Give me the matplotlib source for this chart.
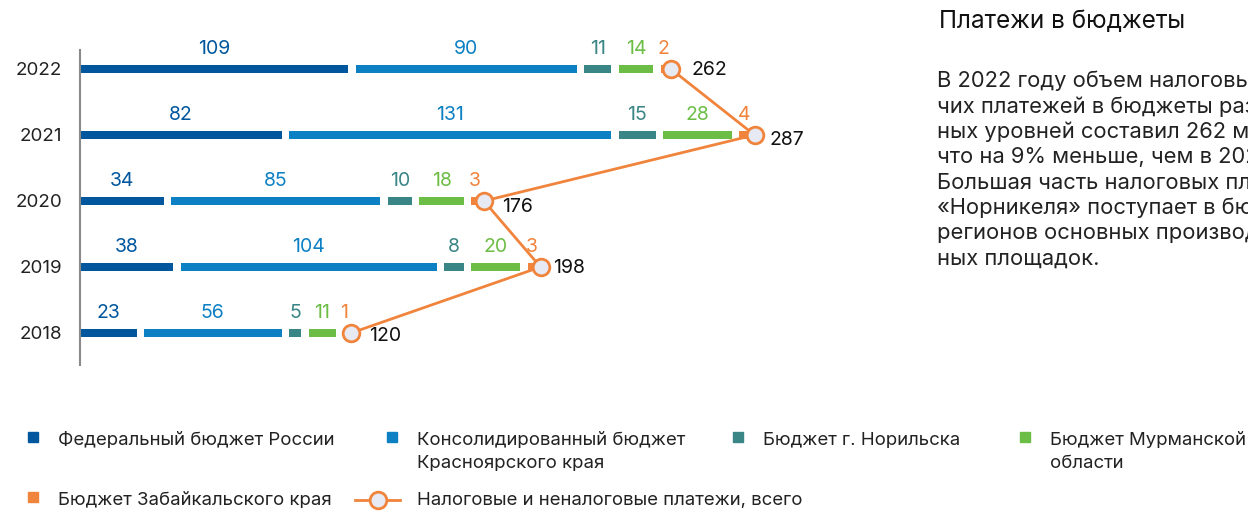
import numpy as np
import matplotlib.pyplot as plt

plt.rcParams['font.family'] = ['Inter', 'DejaVu Sans']

# data
years = ['2018', '2019', '2020', '2021', '2022']
federal = [23, 38, 34, 82, 109]
krasnoyarsk = [56, 104, 85, 131, 90]
norilsk = [5, 8, 10, 15, 11]
murmansk = [11, 20, 18, 28, 14]
zabaikal = [1, 3, 3, 4, 2]
totals = [120, 198, 176, 287, 262]

series = [federal, krasnoyarsk, norilsk, murmansk, zabaikal]
names = ['Федеральный бюджет России',
         'Консолидированный бюджет\nКрасноярского края',
         'Бюджет г. Норильска',
         'Бюджет Мурманской\nобласти',
         'Бюджет Забайкальского края']
colors = ['#00579E', '#0D80C4', '#3A8585', '#6CBD45', '#F0843C']
total_name = 'Налоговые и неналоговые платежи, всего'

title = 'Платежи в бюджеты'
body = ['В 2022 году объем налоговых и про-',
        'чих платежей в бюджеты различ-',
        'ных уровней составил 262 млрд руб.,',
        'что на 9% меньше, чем в 2021 году.',
        'Большая часть налоговых платежей',
        '«Норникеля» поступает в бюджеты',
        'регионов основных производствен-',
        'ных площадок.']

W, H = 1248, 513
fig = plt.figure(figsize=(W / 100, H / 100), dpi=100)

# main chart axes: 2.46 px per unit, rows 66 px apart
ax = fig.add_axes([80 / W, (H - 370) / H, 800 / W, 330 / H])
ax.set_xlim(0, 800 / 2.46)
ax.set_ylim(-0.5606, 4.439)

gap = 3.0
y = np.arange(len(years))
start = np.zeros(len(years))
for vals, col in zip(series, colors):
    vals = np.array(vals, dtype=float)
    ax.barh(y, vals, left=start, height=0.125, color=col, zorder=2)
    for yi, s, v in zip(y, start, vals):
        ax.text(s + v / 2, yi + 0.30, f'{int(v)}', color=col, fontsize=14,
                ha='center', va='center')
    start = start + vals + gap

ends = start - gap + 2.2
ax.plot(ends, y, color='#F0843C', lw=2, zorder=3)
ax.plot(ends, y, 'o', ms=12, mfc='#E8EAF3', mec='#F0843C', mew=2, zorder=4)

nudges = [(18, -3), (13, -1), (18, -6), (15, -5), (21, -1)]
for xi, yi, t, (dx, dy) in zip(ends, y, totals, nudges):
    ax.annotate(f'{t}', (xi, yi), xytext=(dx, dy), textcoords='offset pixels',
                fontsize=14, color='#111111', ha='left', va='center')

ax.set_yticks(y)
ax.set_yticklabels(years, fontsize=13.5, color='#222222')
ax.tick_params(axis='y', length=0, pad=13)
ax.set_xticks([])
for sp in ['top', 'right', 'bottom']:
    ax.spines[sp].set_visible(False)
ax.spines['left'].set_color('#8a8a8a')
ax.spines['left'].set_linewidth(1.5)
ax.spines['left'].set_bounds(-0.48, 4.29)

# overlay in pixel coordinates for text block and legend
ov = fig.add_axes([0, 0, 1, 1])
ov.set_xlim(0, W)
ov.set_ylim(H, 0)
ov.axis('off')

ov.text(939, 21, title, fontsize=17.5, color='#111111', va='center', ha='left')
for i, line in enumerate(body):
    ov.text(937, 81 + i * 25.4, line, fontsize=15.8, color='#222222',
            va='center', ha='left')

leg_pos = [(33, 440), (392, 440), (738, 440), (1025, 440), (33, 500)]
for (lx, ly), name, col in zip(leg_pos, names, colors):
    ov.plot(lx, ly - 3, 's', ms=7, color=col)
    ov.text(lx + 25, ly - 8, name, fontsize=13.4, color='#222222',
            va='top', ha='left', linespacing=1.45)

ov.plot([355, 400], [500, 500], color='#F0843C', lw=2)
ov.plot(378, 500, 'o', ms=12, mfc='#E8EAF3', mec='#F0843C', mew=2)
ov.text(417, 492, total_name, fontsize=13.4, color='#222222', va='top', ha='left')

fig.savefig('out.png', dpi=100)
